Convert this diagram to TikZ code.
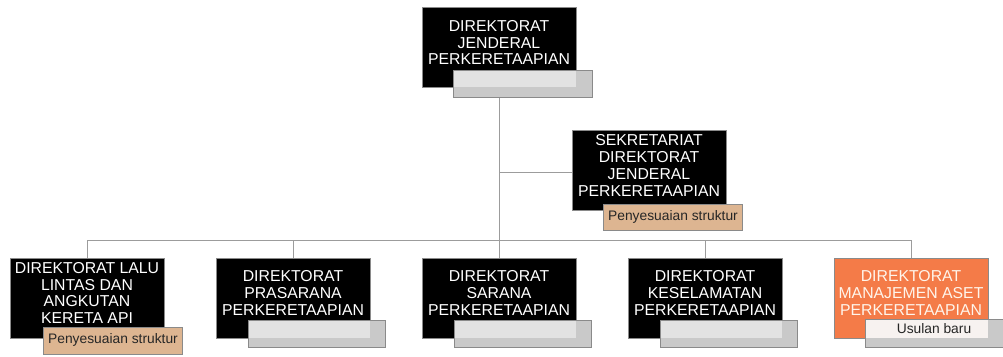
\documentclass[tikz,border=0pt]{standalone}
\usepackage{fontspec}
\setmainfont{Liberation Sans}
\usetikzlibrary{calc}
\definecolor{linegray}{HTML}{9C9C9C}
\definecolor{boxedge}{HTML}{8A8A8A}
\definecolor{shade}{HTML}{C9C9C9}
\definecolor{light}{HTML}{E2E2E2}
\definecolor{tan}{HTML}{DDB591}
\definecolor{orangebox}{HTML}{F47B48}
\definecolor{paper}{HTML}{F7F2F0}
\tikzset{
  conn/.style={draw=linegray, line width=0.9pt},
  blk/.style={draw=boxedge, fill=black, minimum width=154pt, minimum height=80pt, inner sep=0pt},
  orng/.style={draw=boxedge, fill=orangebox, minimum width=154pt, minimum height=80pt, inner sep=0pt},
  txt/.style={text=white, font=\fontsize{15.8}{16.7}\selectfont, align=center, inner sep=0pt},
  subtxt/.style={text=black!85, font=\fontsize{13.8}{15}\selectfont, inner sep=0pt},
  shadebox/.style={draw=boxedge, fill=shade},
  lightbox/.style={fill=light},
  tanbox/.style={draw=boxedge, fill=tan},
}
\begin{document}
\begin{tikzpicture}[x=1pt,y=-1pt]
\useasboundingbox (0,0) rectangle (1003,356);
% main boxes
\node[blk] (top) at (499,47.5) {};
\node[blk] (sek) at (649,170.5) {};
\node[blk] (b1) at (87,298) {};
\node[blk] (b2) at (293,298) {};
\node[blk] (b3) at (499,298) {};
\node[blk] (b4) at (705,298) {};
\node[orng] (b5) at (911,298) {};
% connector junctions
\coordinate (hub) at (499,240);
\coordinate (sekj) at (499,172);
% connectors
\draw[conn] (top.south) -- (hub);
\draw[conn] (sekj) -- (sek.west |- sekj);
\draw[conn] (b1.north |- hub) -- (b5.north |- hub);
\foreach \b in {b1,b2,b3,b4,b5} \draw[conn] (\b.north |- hub) -- (\b.north);
% texts
\node[txt] (toptxt) at (499,42.5) {DIREKTORAT\\JENDERAL\\PERKERETAAPIAN};
\node[txt] (sektxt) at (649,165.5) {SEKRETARIAT\\DIREKTORAT\\JENDERAL\\PERKERETAAPIAN};
\node[txt] (b1txt) at (87,293) {DIREKTORAT LALU\\LINTAS DAN\\ANGKUTAN\\KERETA API};
\node[txt] (b2txt) at (293,293) {DIREKTORAT\\PRASARANA\\PERKERETAAPIAN};
\node[txt] (b3txt) at (499,293) {DIREKTORAT\\SARANA\\PERKERETAAPIAN};
\node[txt] (b4txt) at (705,293) {DIREKTORAT\\KESELAMATAN\\PERKERETAAPIAN};
\node[txt, text=white!92!orange] (b5txt) at (911,293) {DIREKTORAT\\MANAJEMEN ASET\\PERKERETAAPIAN};
% grey sub boxes
\path[shadebox] (453,70) rectangle (592,97);
\path[lightbox] (453.5,70.5) rectangle (576,87);
\path[shadebox] (248,320) rectangle (385,347);
\path[lightbox] (248.5,320.5) rectangle (370,338);
\path[shadebox] (454,320) rectangle (591,347);
\path[lightbox] (454.5,320.5) rectangle (576,338);
\path[shadebox] (660,320) rectangle (797,347);
\path[lightbox] (660.5,320.5) rectangle (782,338);
% tan sub boxes
\path[tanbox] (603,204) rectangle (742,230);
\node[subtxt] (sekstat) at (673,217) {Penyesuaian struktur};
\path[tanbox] (43,327) rectangle (182,354);
\node[subtxt] (b1stat) at (113,340) {Penyesuaian struktur};
% usulan baru
\path[shadebox] (865,319) rectangle (1003,347);
\path[fill=paper] (865.5,319.5) rectangle (988,338);
\node[subtxt] (b5stat) at (934,329) {Usulan baru};
\end{tikzpicture}
\end{document}
